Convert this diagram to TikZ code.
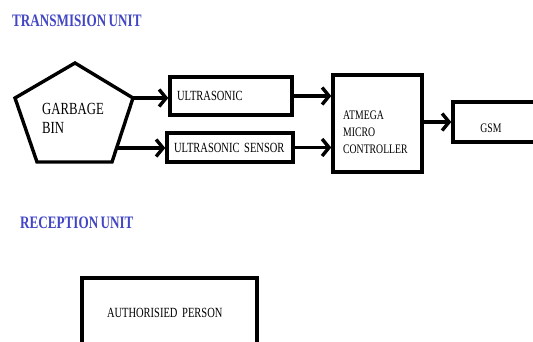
\documentclass[tikz,border=0pt]{standalone}
\usepackage{fontspec}
\usetikzlibrary{arrows.meta, positioning}
\newfontfamily\diagfont[FakeStretch=0.75, WordSpace=0.75]{Liberation Serif}
\definecolor{headblue}{RGB}{66,70,196}

\begin{document}
\begin{tikzpicture}[x=1pt, y=-1pt, >={Straight Barb[length=7pt, width=17pt]},
  head/.style={text=headblue, font=\diagfont\bfseries\fontsize{17.5}{20}\selectfont, inner sep=0pt},
  blk/.style={draw, line width=3.4pt, rectangle, align=left, inner ysep=0pt, font=\diagfont\fontsize{14}{17}\selectfont},
  lbl/.style={align=left, inner sep=0pt, font=\diagfont\fontsize{13}{17}\selectfont},
  conn/.style={->, line width=3.4pt}]

\useasboundingbox (0,0) rectangle (533,341);
\clip (0,0) rectangle (533,341);

\node[head, anchor=west] (txhead) at (12,21) {TRANSMISION UNIT}; %transmission

% garbage bin
\coordinate (b1) at (75,63);
\coordinate (b2) at (133,98);
\coordinate (b3) at (112,162);
\coordinate (b4) at (37,162);
\coordinate (b5) at (15,98);
\draw[line width=3.4pt, line join=miter] (b1) -- (b2) -- (b3) -- (b4) -- (b5) -- cycle;
\node[lbl, anchor=west, font=\diagfont\fontsize{17}{19}\selectfont] (bin) at (42,118) {GARBAGE\\BIN};
\coordinate (b6) at (117,148);

% sensors
\node[blk, minimum width=122, minimum height=38, text width=108, inner xsep=7] (usa) at (231,96) {ULTRASONIC};
\node[blk, minimum width=126, minimum height=29, text width=112, inner xsep=7] (usb) at (230,147.5) {ULTRASONIC SENSOR};

% controller and gsm
\node[blk, minimum width=89, minimum height=97] (mcu) at (377.5,123.5) {};
\node[lbl, anchor=west] (mcutxt) at (343,132) {ATMEGA\\MICRO\\CONTROLLER};
\node[blk, minimum width=110, minimum height=40] (gsm) at (508,122) {};
\node[lbl] (gsmtxt) at (491,128) {GSM};

\draw[conn] (b2) -- (b2 -| usa.west); %to sensor 1
\draw[conn] (b6) -- (b6 -| usb.west); %to sensor 2
\draw[conn] (usa.east) -- (usa.east -| mcu.west);
\draw[conn] (usb.east) -- (usb.east -| mcu.west);
\draw[conn] (gsm.west -| mcu.east) -- (gsm.west);

\node[head, anchor=west] (rxhead) at (20,223) {RECEPTION UNIT}; %reception

\node[blk, minimum width=175, minimum height=70, text width=125, inner xsep=25] (auth) at (169.5,313) {AUTHORISIED PERSON};

\end{tikzpicture}
\end{document}
